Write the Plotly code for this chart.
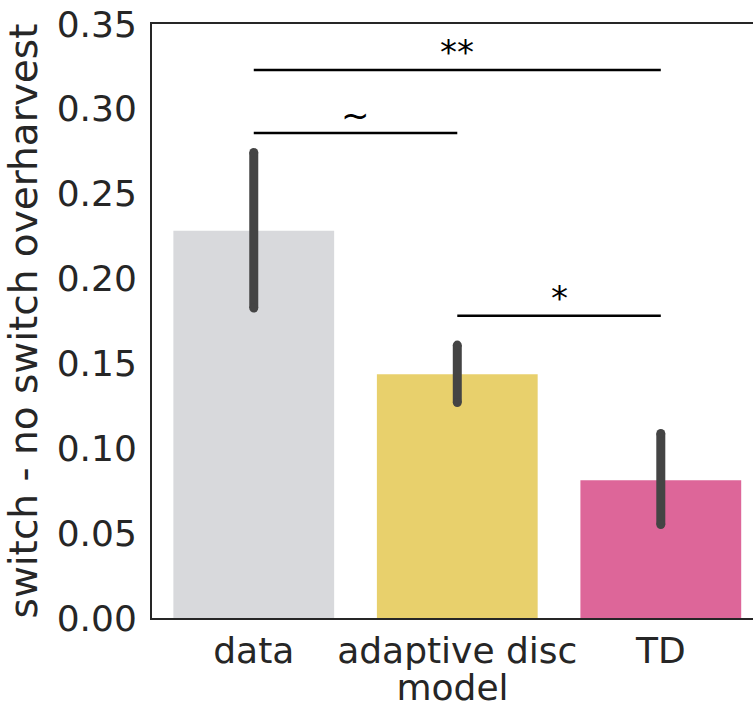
import plotly.graph_objects as go

categories = ["data", "adaptive disc", "TD"]
means = [0.2282, 0.1436, 0.0811]
err_low = [0.1826, 0.1270, 0.0551]
err_high = [0.2743, 0.1608, 0.1087]
bar_colors = ["#d8d9dc", "#e8d06c", "#dd6699"]
y_ticks = [0.0, 0.05, 0.10, 0.15, 0.20, 0.25, 0.30, 0.35]
# significance brackets: (from index, to index, label, height)
sig_from = [0, 0, 1]
sig_to = [2, 1, 2]
sig_labels = ["**", "~", "*"]
sig_heights = [0.3229, 0.2858, 0.1781]

FONT = "DejaVu Sans"
TXT = "#262626"

fig = go.Figure()
fig.add_trace(go.Bar(
    x=categories, y=means, width=0.79,
    marker=dict(color=bar_colors, line=dict(width=0)),
    showlegend=False, hoverinfo="skip",
))

ex, ey = [], []
for c, lo, hi in zip(categories, err_low, err_high):
    ex += [c, c, None]
    ey += [lo, hi, None]
fig.add_trace(go.Scatter(
    x=ex, y=ey, mode="lines+markers",
    line=dict(color="#444444", width=9),
    marker=dict(color="#444444", size=9, symbol="circle", line=dict(width=0)),
    showlegend=False, hoverinfo="skip",
))

for a, b, lab, h in zip(sig_from, sig_to, sig_labels, sig_heights):
    fig.add_shape(type="line", xref="x", yref="y", x0=a, x1=b, y0=h, y1=h,
                  line=dict(color="black", width=2.6))
    fig.add_annotation(x=(a + b) / 2, y=h, xref="x", yref="y", text=lab,
                       showarrow=False, yanchor="bottom", yshift=-4,
                       font=dict(family=FONT, size=34, color="black"))

fig.update_layout(
    width=753, height=708,
    margin=dict(l=152, r=0, t=24, b=90),
    paper_bgcolor="white", plot_bgcolor="white",
    font=dict(family=FONT, size=36, color=TXT),
    bargap=0.21,
)
fig.update_xaxes(
    automargin=False,
    range=[-0.5, 2.453], showgrid=False, zeroline=False,
    showline=True, linecolor=TXT, linewidth=2, mirror=True,
    ticks="", tickfont=dict(size=36, color=TXT),
    title=dict(text="model", font=dict(size=36, color=TXT), standoff=11),
)
fig.update_yaxes(
    automargin=False,
    range=[0, 0.35], showgrid=False, zeroline=False,
    showline=True, linecolor=TXT, linewidth=2, mirror=False,
    tickvals=y_ticks, tickformat=".2f", ticks="",
    ticklabelstandoff=6,
    tickfont=dict(size=36, color=TXT),
    title=dict(text="switch - no switch overharvest", font=dict(size=39, color=TXT), standoff=7),
)

fig.write_html("out.html", config={"displayModeBar": False},
               post_script="document.body.style.margin='0';")
